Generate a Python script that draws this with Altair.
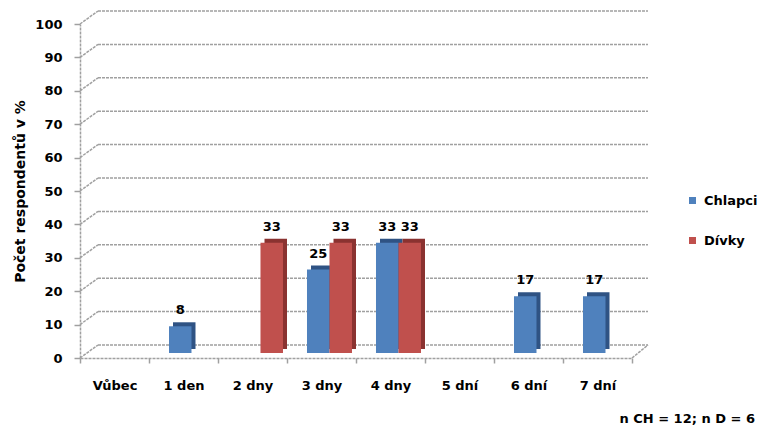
import altair as alt
import pandas as pd

# ---- data ----
categories = ["Vůbec", "1 den", "2 dny", "3 dny", "4 dny", "5 dní", "6 dní", "7 dní"]
series = ["Chlapci", "Dívky"]
chlapci = [0, 8, 0, 25, 33, 0, 17, 17]
divky = [0, 0, 33, 33, 33, 0, 0, 0]
y_ticks = [0, 10, 20, 30, 40, 50, 60, 70, 80, 90, 100]
y_title = "Počet respondentů v %"
note = "n CH = 12; n D = 6"

rows = []
for i, c in enumerate(categories):
    rows.append({"kategorie": c, "pohlavi": series[0], "hodnota": chlapci[i]})
    rows.append({"kategorie": c, "pohlavi": series[1], "hodnota": divky[i]})
df = pd.DataFrame(rows)
grid_df = pd.DataFrame({"v": y_ticks})
floor_df = pd.DataFrame({"v": [0]})

FONT = "DejaVu Sans"
front_colors = ["#4F81BD", "#C0504D"]
side_colors = ["#2F5384", "#8A3230"]
GRID = "#a0a0a0"

W, H = 552, 334

x_axis = alt.Axis(
    title=None, labelAngle=0, labelFont=FONT, labelFontWeight="bold",
    labelFontSize=13, labelColor="black", labelPadding=16,
    domainColor=GRID, domainWidth=1.5, domainDash=[3, 1],
    tickColor=GRID, tickSize=5, tickWidth=1.5, tickBand="extent", grid=False,
)
x_scale = alt.Scale(domain=categories, paddingInner=0, paddingOuter=0)
y_scale = alt.Scale(domain=[0, 100], nice=False)
y_axis = alt.Axis(
    values=y_ticks, title=y_title, titleFont=FONT, titleFontWeight="bold",
    titleFontSize=14, titleColor="black", titlePadding=7,
    labelFont=FONT, labelFontWeight="bold", labelFontSize=13, labelColor="black",
    labelPadding=12, domainColor=GRID, domainWidth=1.5, domainDash=[3, 1],
    tickColor=GRID, tickSize=6, tickWidth=1.5, grid=False,
)

main_off = alt.Scale(type="band", domain=series, paddingInner=0,
                     paddingOuter=0.5333, align=0.833)
side_off = alt.Scale(type="band", domain=series, paddingInner=0,
                     paddingOuter=0.5333, align=1.0)

x_enc = alt.X("kategorie:N", sort=categories, scale=x_scale, axis=x_axis)

# back-wall gridlines (3D look)
grid_h = alt.Chart(grid_df).mark_rule(
    color=GRID, strokeWidth=1.5, strokeDash=[3, 1], yOffset=-13
).encode(
    y=alt.Y("v:Q", scale=y_scale, axis=y_axis),
    x=alt.value(18), x2=alt.value(W + 16),
)
grid_d = alt.Chart(grid_df).mark_rule(
    color=GRID, strokeWidth=1.5, strokeDash=[3, 1], y2Offset=-13
).encode(
    y=alt.Y("v:Q", scale=y_scale, axis=y_axis),
    y2=alt.Y2("v:Q"),
    x=alt.value(0), x2=alt.value(18),
)
floor_r = alt.Chart(floor_df).mark_rule(
    color=GRID, strokeWidth=1.5, strokeDash=[3, 1], y2Offset=-13
).encode(
    y=alt.Y("v:Q", scale=y_scale, axis=y_axis),
    y2=alt.Y2("v:Q"),
    x=alt.value(W), x2=alt.value(W + 16),
)

base = alt.Chart(df).transform_filter("datum.hodnota > 0")

side = base.mark_bar(yOffset=-9, y2Offset=-9).encode(
    x=x_enc,
    xOffset=alt.XOffset("pohlavi:N", sort=series, scale=side_off),
    y=alt.Y("hodnota:Q", scale=y_scale, axis=y_axis),
    color=alt.Color("pohlavi:N", sort=series,
                    scale=alt.Scale(domain=series, range=side_colors), legend=None),
)

bars = base.mark_bar(yOffset=-5, y2Offset=-5).encode(
    x=x_enc,
    xOffset=alt.XOffset("pohlavi:N", sort=series, scale=main_off),
    y=alt.Y("hodnota:Q", scale=y_scale, axis=y_axis),
    color=alt.Color(
        "pohlavi:N", sort=series,
        scale=alt.Scale(domain=series, range=front_colors),
        legend=alt.Legend(
            title=None, orient="none", legendX=606, legendY=170,
            symbolType="square", symbolSize=49, symbolStrokeWidth=0,
            labelFont=FONT, labelFontWeight="bold", labelFontSize=13,
            labelColor="black", labelOffset=5, rowPadding=26,
        ),
    ),
)

labels = base.mark_text(
    font=FONT, fontWeight="bold", fontSize=13, color="black",
    baseline="bottom", dy=-14,
).encode(
    x=x_enc,
    xOffset=alt.XOffset("pohlavi:N", sort=series, scale=main_off),
    y=alt.Y("hodnota:Q", scale=y_scale, axis=y_axis),
    text=alt.Text("hodnota:Q"),
)

chart = alt.layer(grid_h, grid_d, floor_r, side, bars, labels).resolve_scale(
    xOffset="independent", color="independent"
).properties(
    width=W, height=H,
    autosize=alt.AutoSizeParams(type="none"),
    padding={"left": 80, "top": 24, "right": 130, "bottom": 68},
    title=alt.TitleParams(
        text=note, orient="bottom", anchor="end", frame="group",
        font=FONT, fontWeight="bold", fontSize=13, color="black",
        dx=123, offset=21,
    ),
    background="white",
).configure_view(strokeWidth=0)

chart.save("out.html", embed_options={"renderer": "svg", "actions": False})
